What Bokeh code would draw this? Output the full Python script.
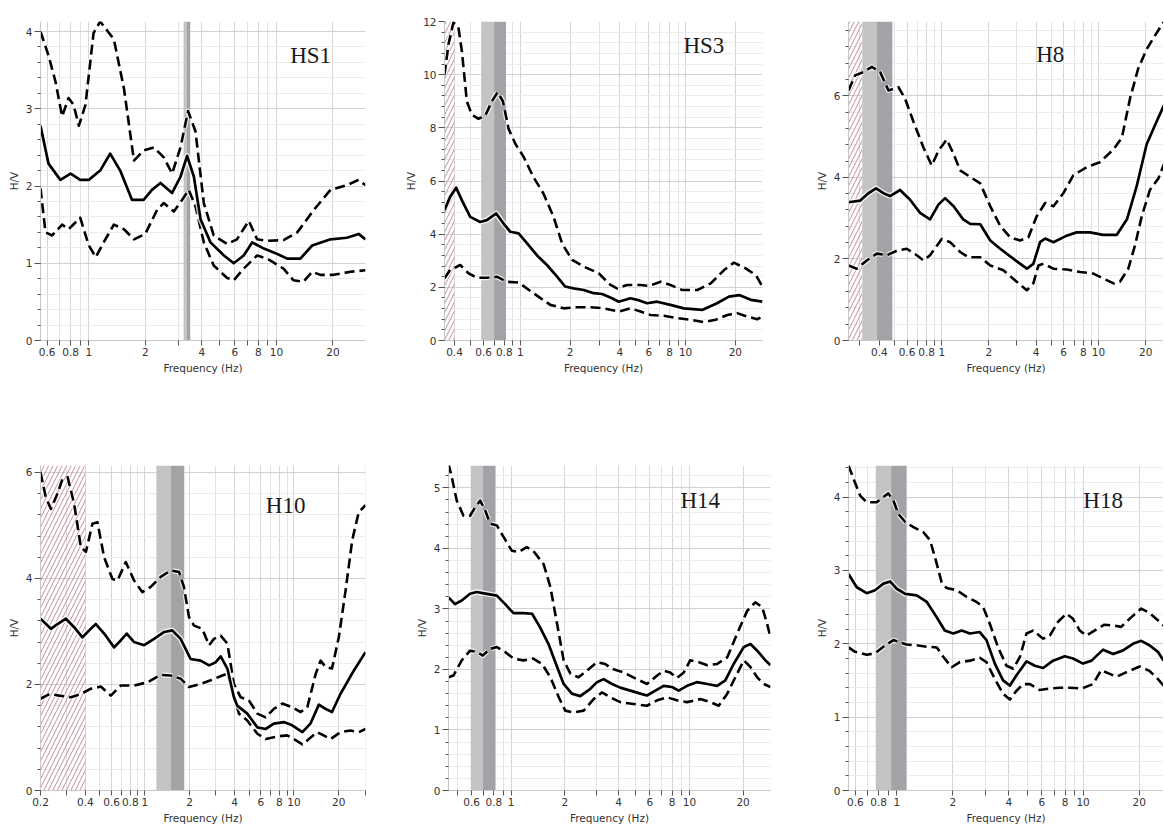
from bokeh.plotting import figure
from bokeh.layouts import column, row
from bokeh.models import Range1d, FixedTicker, SingleIntervalTicker, Label, CustomJSTickFormatter
from bokeh.embed import file_html
from bokeh.resources import INLINE

# ---------------- data ----------------
NAMES = ["HS1", "HS3", "H8", "H10", "H14", "H18"]

HS1_MEAN_F = [0.553, 0.61, 0.706, 0.80, 0.90, 1.0, 1.15, 1.30, 1.47, 1.70, 1.96, 2.17, 2.41, 2.78, 3.08, 3.34, 3.63, 3.94, 4.45, 5.25, 5.92, 6.69, 7.42, 8.57, 10.1, 11.4, 13.4, 15.5, 19.4, 23.7, 27.4, 29.8]
HS1_MEAN = [2.78, 2.29, 2.08, 2.16, 2.08, 2.08, 2.2, 2.42, 2.2, 1.82, 1.82, 1.95, 2.04, 1.91, 2.12, 2.39, 2.12, 1.57, 1.27, 1.10, 1.0, 1.10, 1.27, 1.19, 1.12, 1.06, 1.06, 1.23, 1.31, 1.33, 1.38, 1.31]
HS1_UP_F = [0.553, 0.61, 0.665, 0.721, 0.78, 0.83, 0.885, 0.96, 1.06, 1.15, 1.36, 1.54, 1.74, 1.96, 2.22, 2.51, 2.78, 3.08, 3.38, 3.7, 4.1, 4.63, 5.46, 6.16, 7.12, 7.88, 8.93, 10.9, 12.9, 15.8, 19.4, 23.7, 27.4, 29.8]
HS1_UP = [4.0, 3.69, 3.35, 2.90, 3.14, 3.05, 2.78, 3.05, 3.98, 4.13, 3.9, 3.26, 2.33, 2.46, 2.5, 2.37, 2.16, 2.5, 2.97, 2.71, 1.78, 1.36, 1.25, 1.31, 1.55, 1.31, 1.29, 1.30, 1.40, 1.69, 1.95, 2.01, 2.08, 2.01]
HS1_LO_F = [0.553, 0.588, 0.638, 0.721, 0.78, 0.90, 1.0, 1.09, 1.20, 1.36, 1.54, 1.74, 2.0, 2.31, 2.51, 2.84, 3.14, 3.41, 3.7, 4.1, 4.63, 5.46, 5.92, 6.69, 7.88, 8.93, 10.9, 12.3, 13.9, 15.5, 17.1, 20.2, 24.8, 29.8]
HS1_LO = [1.97, 1.40, 1.36, 1.50, 1.44, 1.59, 1.23, 1.08, 1.27, 1.50, 1.44, 1.31, 1.38, 1.69, 1.78, 1.67, 1.82, 1.95, 1.74, 1.27, 0.97, 0.81, 0.78, 0.93, 1.10, 1.06, 0.93, 0.78, 0.76, 0.89, 0.85, 0.85, 0.89, 0.91]

HS3_MEAN_F = [0.348, 0.376, 0.409, 0.443, 0.498, 0.572, 0.628, 0.715, 0.792, 0.87, 0.977, 1.10, 1.26, 1.45, 1.67, 1.87, 2.10, 2.42, 2.78, 3.13, 3.59, 3.94, 4.64, 5.09, 5.85, 6.73, 8.1, 9.76, 12.6, 15.5, 18.3, 21.1, 24.8, 29.2]
HS3_MEAN = [4.9, 5.4, 5.75, 5.28, 4.65, 4.46, 4.53, 4.78, 4.4, 4.09, 4.03, 3.65, 3.21, 2.84, 2.4, 2.03, 1.96, 1.9, 1.78, 1.75, 1.59, 1.46, 1.59, 1.53, 1.4, 1.46, 1.34, 1.21, 1.15, 1.4, 1.65, 1.71, 1.53, 1.46]
HS3_UP_F = [0.348, 0.368, 0.394, 0.422, 0.443, 0.475, 0.509, 0.559, 0.614, 0.674, 0.729, 0.785, 0.85, 0.933, 1.05, 1.20, 1.38, 1.59, 1.79, 2.06, 2.42, 2.98, 3.51, 3.85, 4.43, 5.34, 6.0, 7.06, 8.1, 9.53, 11.8, 14.2, 17.1, 19.6, 23.1, 26.6, 29.2]
HS3_UP = [10.0, 11.15, 11.96, 11.8, 10.9, 9.0, 8.5, 8.34, 8.46, 9.0, 9.34, 9.0, 7.96, 7.4, 6.9, 6.15, 5.53, 4.65, 3.65, 3.03, 2.78, 2.53, 2.09, 1.96, 2.09, 2.09, 2.05, 2.21, 2.09, 1.9, 1.9, 2.15, 2.65, 2.93, 2.71, 2.46, 2.03]
HS3_LO_F = [0.348, 0.376, 0.433, 0.486, 0.546, 0.628, 0.722, 0.83, 0.977, 1.20, 1.52, 1.83, 2.2, 2.65, 3.2, 3.94, 4.64, 5.34, 6.13, 7.39, 8.9, 10.7, 12.9, 15.2, 17.9, 20.5, 23.6, 27.1, 29.2]
HS3_LO = [2.34, 2.65, 2.84, 2.53, 2.36, 2.36, 2.4, 2.21, 2.18, 1.78, 1.34, 1.21, 1.25, 1.25, 1.21, 1.09, 1.21, 1.09, 0.96, 0.93, 0.84, 0.78, 0.69, 0.78, 0.96, 1.03, 0.9, 0.8, 0.9]

H8_MEAN_F = [0.254, 0.302, 0.34, 0.381, 0.424, 0.468, 0.542, 0.628, 0.727, 0.842, 0.952, 1.05, 1.19, 1.37, 1.52, 1.76, 2.04, 2.36, 2.87, 3.49, 3.84, 4.24, 4.57, 5.16, 6.27, 7.25, 8.83, 10.7, 13.1, 15.2, 17.5, 20.3, 23.5, 26.2]
H8_MEAN = [3.39, 3.43, 3.61, 3.73, 3.61, 3.54, 3.69, 3.45, 3.13, 2.97, 3.33, 3.49, 3.29, 2.97, 2.86, 2.85, 2.45, 2.25, 2.0, 1.76, 1.88, 2.41, 2.5, 2.41, 2.57, 2.65, 2.65, 2.59, 2.59, 2.97, 3.77, 4.81, 5.37, 5.77]
H8_UP_F = [0.254, 0.28, 0.316, 0.358, 0.404, 0.457, 0.529, 0.583, 0.659, 0.764, 0.863, 0.952, 1.076, 1.19, 1.31, 1.52, 1.76, 2.04, 2.36, 2.73, 3.16, 3.57, 4.04, 4.57, 5.16, 5.97, 6.91, 8.41, 10.2, 12.5, 14.1, 15.9, 17.9, 20.3, 23.5, 26.2]
H8_UP = [6.13, 6.5, 6.58, 6.71, 6.58, 6.13, 6.21, 5.93, 5.37, 4.73, 4.29, 4.65, 4.93, 4.57, 4.17, 4.01, 3.85, 3.29, 2.81, 2.53, 2.45, 2.53, 3.05, 3.37, 3.29, 3.61, 4.05, 4.25, 4.37, 4.69, 4.97, 5.93, 6.66, 7.14, 7.54, 7.82]
H8_LO_F = [0.254, 0.287, 0.332, 0.385, 0.445, 0.516, 0.598, 0.693, 0.764, 0.842, 1.0, 1.13, 1.31, 1.48, 1.76, 2.04, 2.47, 3.01, 3.49, 3.84, 4.14, 4.46, 5.16, 6.27, 7.63, 9.28, 10.7, 12.5, 13.7, 15.5, 17.1, 18.9, 21.3, 24.1, 26.2]
H8_LO = [1.84, 1.76, 1.96, 2.13, 2.09, 2.2, 2.25, 2.09, 1.96, 2.09, 2.49, 2.41, 2.17, 2.04, 2.04, 1.84, 1.72, 1.44, 1.23, 1.4, 1.84, 1.88, 1.76, 1.74, 1.68, 1.64, 1.52, 1.40, 1.44, 1.76, 2.33, 3.05, 3.69, 3.97, 4.33]

H10_MEAN_F = [0.2, 0.235, 0.26, 0.296, 0.336, 0.382, 0.424, 0.47, 0.534, 0.623, 0.69, 0.757, 0.848, 0.99, 1.155, 1.35, 1.53, 1.74, 2.03, 2.37, 2.7, 2.99, 3.23, 3.58, 3.96, 4.17, 4.87, 5.69, 6.46, 7.34, 8.56, 9.74, 11.4, 12.9, 14.7, 16.3, 18.0, 20.5, 25.2, 30.2]
H10_MEAN = [3.24, 3.05, 3.14, 3.24, 3.08, 2.89, 3.02, 3.14, 2.96, 2.7, 2.83, 2.96, 2.8, 2.74, 2.86, 2.99, 3.02, 2.86, 2.48, 2.45, 2.36, 2.42, 2.53, 2.3, 1.76, 1.6, 1.45, 1.19, 1.16, 1.26, 1.29, 1.23, 1.10, 1.26, 1.62, 1.54, 1.48, 1.82, 2.26, 2.61]
H10_UP_F = [0.2, 0.217, 0.235, 0.26, 0.281, 0.304, 0.336, 0.373, 0.403, 0.446, 0.482, 0.534, 0.607, 0.656, 0.746, 0.848, 0.965, 1.097, 1.28, 1.49, 1.70, 1.83, 1.98, 2.14, 2.43, 2.7, 2.91, 3.23, 3.58, 3.96, 4.39, 4.99, 5.69, 6.46, 7.34, 8.36, 9.74, 11.1, 12.3, 14.0, 15.1, 16.3, 18.0, 20.0, 22.2, 24.6, 27.2, 30.2]
H10_UP = [6.0, 5.53, 5.31, 5.6, 5.88, 5.91, 5.41, 4.59, 4.5, 5.03, 5.06, 4.4, 3.99, 3.96, 4.31, 3.96, 3.74, 3.84, 4.03, 4.15, 4.12, 3.84, 3.27, 3.11, 3.05, 2.74, 2.86, 2.92, 2.77, 2.01, 1.76, 1.70, 1.45, 1.38, 1.54, 1.64, 1.57, 1.48, 1.57, 2.2, 2.45, 2.33, 2.30, 2.89, 3.77, 4.72, 5.25, 5.38]
H10_LO_F = [0.2, 0.23, 0.267, 0.32, 0.373, 0.435, 0.507, 0.592, 0.69, 0.848, 1.04, 1.28, 1.49, 1.74, 1.98, 2.37, 2.77, 3.31, 3.58, 3.86, 4.28, 4.87, 5.69, 6.46, 7.74, 9.0, 10.0, 11.4, 12.6, 14.3, 15.8, 17.6, 20.5, 23.9, 27.2, 30.2]
H10_LO = [1.73, 1.82, 1.79, 1.76, 1.82, 1.92, 1.96, 1.79, 1.98, 1.98, 2.04, 2.18, 2.17, 2.11, 1.95, 2.01, 2.08, 2.17, 2.2, 1.89, 1.45, 1.32, 1.07, 0.97, 1.02, 1.04, 0.97, 0.87, 0.97, 1.10, 1.04, 0.97, 1.10, 1.13, 1.10, 1.16]

H14_MEAN_F = [0.445, 0.484, 0.528, 0.588, 0.641, 0.73, 0.831, 0.925, 1.03, 1.17, 1.31, 1.45, 1.62, 1.81, 1.97, 2.19, 2.44, 2.78, 3.03, 3.3, 3.68, 4.09, 4.66, 5.3, 5.78, 6.44, 7.17, 7.98, 8.7, 9.7, 11.0, 12.6, 14.3, 15.9, 17.7, 20.2, 22.0, 24.0, 26.7, 28.5]
H14_MEAN = [3.19, 3.08, 3.14, 3.25, 3.28, 3.25, 3.22, 3.08, 2.93, 2.93, 2.92, 2.7, 2.42, 2.04, 1.76, 1.6, 1.56, 1.68, 1.79, 1.84, 1.76, 1.70, 1.65, 1.60, 1.57, 1.65, 1.73, 1.71, 1.65, 1.73, 1.79, 1.76, 1.73, 1.82, 2.09, 2.37, 2.42, 2.31, 2.15, 2.07]
H14_UP_F = [0.445, 0.464, 0.495, 0.54, 0.588, 0.628, 0.67, 0.714, 0.762, 0.831, 0.906, 1.01, 1.1, 1.22, 1.33, 1.52, 1.66, 1.81, 1.97, 2.15, 2.39, 2.66, 3.03, 3.37, 3.68, 4.27, 5.08, 5.78, 6.59, 7.17, 7.8, 8.5, 9.3, 10.1, 11.3, 12.6, 14.3, 16.3, 18.5, 21.1, 23.4, 25.6, 27.3, 28.5]
H14_UP = [5.4, 5.18, 4.79, 4.54, 4.54, 4.68, 4.79, 4.63, 4.41, 4.38, 4.19, 3.96, 3.94, 4.02, 3.96, 3.74, 3.36, 2.75, 2.15, 1.93, 1.87, 1.98, 2.12, 2.09, 2.01, 1.95, 1.84, 1.76, 1.90, 1.98, 1.95, 1.86, 1.95, 2.15, 2.12, 2.07, 2.09, 2.2, 2.59, 2.97, 3.11, 3.03, 2.75, 2.53]
H14_LO_F = [0.445, 0.474, 0.528, 0.588, 0.641, 0.693, 0.762, 0.831, 0.925, 1.03, 1.17, 1.33, 1.49, 1.66, 1.85, 2.01, 2.24, 2.55, 2.9, 3.23, 3.6, 4.09, 4.86, 5.78, 6.59, 7.48, 8.5, 9.7, 11.5, 13.1, 14.6, 16.3, 18.5, 20.2, 22.0, 24.0, 26.1, 28.5]
H14_LO = [1.87, 1.9, 2.15, 2.31, 2.29, 2.23, 2.34, 2.37, 2.29, 2.18, 2.15, 2.18, 2.09, 1.87, 1.54, 1.32, 1.29, 1.32, 1.51, 1.62, 1.54, 1.46, 1.43, 1.40, 1.49, 1.54, 1.49, 1.46, 1.51, 1.46, 1.40, 1.60, 1.93, 2.15, 2.04, 1.87, 1.76, 1.71]

H18_MEAN_F = [0.551, 0.61, 0.69, 0.765, 0.848, 0.921, 1.0, 1.11, 1.28, 1.45, 1.64, 1.81, 2.01, 2.23, 2.47, 2.79, 3.03, 3.36, 3.72, 4.05, 4.39, 4.97, 5.51, 6.1, 6.9, 7.97, 8.83, 10.0, 11.1, 12.8, 14.5, 16.4, 18.5, 20.5, 22.7, 25.2, 27.0]
H18_MEAN = [2.95, 2.77, 2.69, 2.73, 2.82, 2.85, 2.75, 2.68, 2.66, 2.57, 2.36, 2.18, 2.14, 2.18, 2.14, 2.16, 2.05, 1.73, 1.5, 1.43, 1.57, 1.76, 1.70, 1.67, 1.77, 1.83, 1.80, 1.73, 1.77, 1.92, 1.86, 1.91, 2.0, 2.04, 1.98, 1.89, 1.77]
H18_UP_F = [0.551, 0.586, 0.636, 0.69, 0.781, 0.848, 0.902, 0.96, 1.02, 1.11, 1.23, 1.39, 1.51, 1.64, 1.74, 1.85, 2.1, 2.37, 2.68, 2.91, 3.16, 3.5, 3.88, 4.22, 4.58, 4.97, 5.39, 6.1, 6.63, 7.34, 8.13, 8.83, 9.6, 10.4, 11.5, 13.0, 14.5, 16.0, 18.1, 20.5, 22.7, 25.2, 27.0]
H18_UP = [4.43, 4.25, 4.02, 3.93, 3.93, 4.0, 4.05, 3.95, 3.77, 3.66, 3.59, 3.52, 3.41, 3.09, 2.84, 2.76, 2.73, 2.64, 2.57, 2.5, 2.27, 1.95, 1.70, 1.66, 1.82, 2.14, 2.18, 2.07, 2.11, 2.3, 2.41, 2.34, 2.18, 2.11, 2.18, 2.26, 2.25, 2.23, 2.36, 2.48, 2.42, 2.32, 2.25]
H18_LO_F = [0.551, 0.598, 0.69, 0.765, 0.848, 0.96, 1.04, 1.13, 1.28, 1.45, 1.64, 1.78, 1.97, 2.18, 2.47, 2.79, 3.03, 3.36, 3.72, 4.05, 4.39, 4.77, 5.18, 5.85, 6.63, 7.5, 8.5, 9.8, 11.3, 12.5, 13.9, 15.1, 17.0, 20.1, 22.7, 25.2, 27.0]
H18_LO = [1.95, 1.89, 1.85, 1.87, 1.96, 2.05, 2.02, 1.99, 1.98, 1.96, 1.95, 1.82, 1.68, 1.75, 1.77, 1.81, 1.75, 1.52, 1.32, 1.24, 1.36, 1.45, 1.45, 1.37, 1.39, 1.40, 1.40, 1.39, 1.45, 1.64, 1.59, 1.55, 1.61, 1.69, 1.63, 1.52, 1.43]

# peak-frequency bands (light = f0 - sigma .. f0, dark = f0 .. f0 + sigma)
LIGHT_BANDS = {"HS1": (3.20, 3.32), "HS3": (0.58, 0.695), "H8": (0.311, 0.385),
               "H10": (1.197, 1.493), "H14": (0.593, 0.693), "H18": (0.772, 0.933)}
DARK_BANDS = {"HS1": (3.32, 3.47), "HS3": (0.695, 0.82), "H8": (0.385, 0.484),
              "H10": (1.493, 1.84), "H14": (0.693, 0.817), "H18": (0.933, 1.13)}
# frequencies below this limit are hatched (not reliable)
HATCH_LIMIT = {"HS3": 0.40, "H8": 0.31, "H10": 0.40}

# axis extents
X_RANGES = {"HS1": (0.553, 29.8), "HS3": (0.348, 29.2), "H8": (0.254, 26.0),
            "H10": (0.2, 30.2), "H14": (0.445, 28.5), "H18": (0.551, 27.0)}
Y_MAX = {"HS1": 4.13, "HS3": 12.0, "H8": 7.82, "H10": 6.13, "H14": 5.37, "H18": 4.43}
Y_STEP = {"HS1": 1, "HS3": 2, "H8": 2, "H10": 2, "H14": 1, "H18": 1}

X_LABELED = {"HS1": [0.6, 0.8, 1, 2, 4, 6, 8, 10, 20],
             "HS3": [0.4, 0.6, 0.8, 1, 2, 4, 6, 8, 10, 20],
             "H8": [0.4, 0.6, 0.8, 1, 2, 4, 6, 8, 10, 20],
             "H10": [0.2, 0.4, 0.6, 0.8, 1, 2, 4, 6, 8, 10, 20],
             "H14": [0.6, 0.8, 1, 2, 4, 6, 8, 10, 20],
             "H18": [0.6, 0.8, 1, 2, 4, 6, 8, 10, 20]}
X_UNLABELED = [0.3, 0.5, 0.7, 0.9, 3, 5, 7, 9, 30]

# title anchor (Hz, H/V)
TITLE_POS = {"HS1": (15.2, 3.69), "HS3": (12.9, 11.1), "H8": (4.92, 7.02),
             "H10": (8.8, 5.38), "H14": (11.5, 4.79), "H18": (12.8, 3.95)}

CURVES = {
    "HS1": (HS1_MEAN_F, HS1_MEAN, HS1_UP_F, HS1_UP, HS1_LO_F, HS1_LO),
    "HS3": (HS3_MEAN_F, HS3_MEAN, HS3_UP_F, HS3_UP, HS3_LO_F, HS3_LO),
    "H8": (H8_MEAN_F, H8_MEAN, H8_UP_F, H8_UP, H8_LO_F, H8_LO),
    "H10": (H10_MEAN_F, H10_MEAN, H10_UP_F, H10_UP, H10_LO_F, H10_LO),
    "H14": (H14_MEAN_F, H14_MEAN, H14_UP_F, H14_UP, H14_LO_F, H14_LO),
    "H18": (H18_MEAN_F, H18_MEAN, H18_UP_F, H18_UP, H18_LO_F, H18_LO),
}

# ---------------- layout (pixels) ----------------
# name: (width, height, border_left, border_right, border_top, border_bottom)
GEOM = {"HS1": (395, 430, 40, 30, 15, 90),
        "HS3": (390, 430, 49, 23, 21, 89),
        "H8": (378, 430, 63, 0, 15, 90),
        "H10": (395, 398, 40, 30, 35, 38),
        "H14": (390, 398, 53, 15, 35, 38),
        "H18": (378, 398, 63, 0, 35, 38)}

TICK_FONT = "DejaVu Sans"


def make_panel(name):
    w, h, bl, br, bt, bb = GEOM[name]
    x0, x1 = X_RANGES[name]
    ymax = Y_MAX[name]
    p = figure(width=w, height=h, x_axis_type="log",
               x_range=Range1d(x0, x1), y_range=Range1d(0, ymax),
               output_backend="svg", toolbar_location=None,
               min_border_left=bl, min_border_right=br,
               min_border_top=bt, min_border_bottom=bb)
    p.outline_line_color = None
    p.background_fill_color = "white"

    # axes
    p.xaxis.ticker = FixedTicker(ticks=X_LABELED[name], minor_ticks=X_UNLABELED)
    p.xaxis.formatter = CustomJSTickFormatter(code="return String(Math.round(tick*100)/100);")
    p.yaxis.ticker = SingleIntervalTicker(interval=Y_STEP[name], num_minor_ticks=5)
    p.xaxis.axis_label = "Frequency (Hz)"
    p.yaxis.axis_label = "H/V"
    for ax in (p.xaxis, p.yaxis):
        ax.axis_label_text_font = TICK_FONT
        ax.axis_label_text_font_size = "10.5px"
        ax.axis_label_text_font_style = "normal"
        ax.axis_label_text_color = "#333333"
        ax.axis_label_standoff = 3
        ax.major_label_text_font = TICK_FONT
        ax.major_label_text_font_size = "10.5px"
        ax.major_label_text_color = "#333333"
        ax.major_label_standoff = 2
        ax.axis_line_color = "#c8c8c8"
        ax.major_tick_line_color = "#555555"
        ax.minor_tick_line_color = "#555555"
        ax.major_tick_in = 0
        ax.minor_tick_in = 0
    p.xaxis.major_tick_out = 5
    p.xaxis.minor_tick_out = 5
    p.yaxis.major_tick_out = 6
    p.yaxis.minor_tick_out = 3

    # grid
    p.xgrid.grid_line_color = "#d6d6d6"
    p.xgrid.minor_grid_line_color = "#e2e2e2"
    p.ygrid.grid_line_color = "#d2d2d2"
    p.ygrid.minor_grid_line_color = "#ececec"

    # hatched unreliable zone
    if name in HATCH_LIMIT:
        p.quad(left=[x0], right=[HATCH_LIMIT[name]], bottom=[0], top=[ymax],
               fill_alpha=0, line_alpha=0, hatch_pattern="/",
               hatch_color="#c0909c", hatch_scale=9, hatch_weight=1)

    # peak bands
    lb = LIGHT_BANDS[name]
    db = DARK_BANDS[name]
    p.quad(left=[lb[0]], right=[lb[1]], bottom=[0], top=[ymax],
           fill_color="#c3c3c3", line_color=None)
    p.quad(left=[db[0]], right=[db[1]], bottom=[0], top=[ymax],
           fill_color="#a2a2a7", line_color=None)

    mf, mv, uf, uv, lf, lv = CURVES[name]
    for f, v in ((uf, uv), (lf, lv)):
        p.line(f, v, line_color="white", line_width=5, line_dash="10 5", line_alpha=0.8,
               line_join="round")
        p.line(f, v, line_color="black", line_width=2.6, line_dash="10 5", line_join="round")
    p.line(mf, mv, line_color="white", line_width=5.5, line_alpha=0.8, line_join="round")
    p.line(mf, mv, line_color="black", line_width=2.7, line_join="round")

    tx, ty = TITLE_POS[name]
    p.add_layout(Label(x=tx, y=ty, text=name, text_font="Liberation Serif",
                       text_font_size="23px", text_color="#1a1a1a",
                       text_align="center", text_baseline="middle"))
    return p


panels = [make_panel(n) for n in NAMES]
layout = column(row(panels[0], panels[1], panels[2]),
                row(panels[3], panels[4], panels[5]))

open("out.html", "w").write(file_html(layout, INLINE))
